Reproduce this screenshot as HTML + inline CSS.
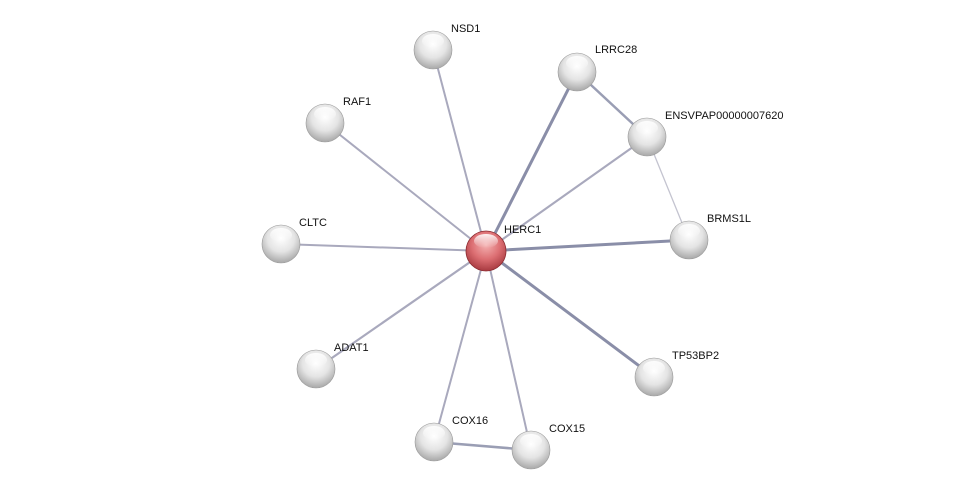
<!DOCTYPE html>
<html><head><meta charset="utf-8"><style>
html,body{margin:0;padding:0;background:#fff;}
svg text{font-family:"Liberation Sans",sans-serif;font-size:11px;fill:#111;}
</style></head><body>
<svg width="976" height="495" viewBox="0 0 976 495" xmlns="http://www.w3.org/2000/svg">
<defs>
<radialGradient id="g" cx="50%" cy="35%" r="65%">
<stop offset="0" stop-color="#ffffff"/><stop offset="0.55" stop-color="#e4e4e4"/><stop offset="1" stop-color="#a8a8a8"/>
</radialGradient>
<radialGradient id="r" cx="50%" cy="35%" r="65%">
<stop offset="0" stop-color="#f4b0b0"/><stop offset="0.55" stop-color="#dc6e72"/><stop offset="1" stop-color="#a83a40"/>
</radialGradient>
<linearGradient id="hl" x1="0" y1="0" x2="0" y2="1">
<stop offset="0" stop-color="#fff" stop-opacity="0.9"/><stop offset="1" stop-color="#fff" stop-opacity="0"/>
</linearGradient>
</defs>
<g stroke-linecap="round">
<line x1="486" y1="251" x2="433" y2="50" stroke="#a9a9bd" stroke-width="2"/>
<line x1="486" y1="251" x2="577" y2="72" stroke="#8a8ea8" stroke-width="3"/>
<line x1="486" y1="251" x2="647" y2="137" stroke="#a9a9bd" stroke-width="2.2"/>
<line x1="486" y1="251" x2="325" y2="123" stroke="#a9a9bd" stroke-width="2"/>
<line x1="486" y1="251" x2="281" y2="244" stroke="#a9a9bd" stroke-width="2"/>
<line x1="486" y1="251" x2="689" y2="240" stroke="#8a8ea8" stroke-width="3"/>
<line x1="486" y1="251" x2="316" y2="369" stroke="#a9a9bd" stroke-width="2.2"/>
<line x1="486" y1="251" x2="654" y2="377" stroke="#8a8ea8" stroke-width="3"/>
<line x1="486" y1="251" x2="434" y2="442" stroke="#a9a9bd" stroke-width="2"/>
<line x1="486" y1="251" x2="531" y2="450" stroke="#a9a9bd" stroke-width="2"/>
<line x1="577" y1="72" x2="647" y2="137" stroke="#9a9eb4" stroke-width="2.5"/>
<line x1="647" y1="137" x2="689" y2="240" stroke="#c4c4d0" stroke-width="1.3"/>
<line x1="434" y1="442" x2="531" y2="450" stroke="#9a9eb4" stroke-width="2.5"/>
</g>
<g>
<g transform="translate(433,50)"><circle r="19" fill="url(#g)" stroke="#999" stroke-width="0.6"/><ellipse cy="-9" rx="11" ry="7" fill="url(#hl)"/></g>
<g transform="translate(577,72)"><circle r="19" fill="url(#g)" stroke="#999" stroke-width="0.6"/><ellipse cy="-9" rx="11" ry="7" fill="url(#hl)"/></g>
<g transform="translate(647,137)"><circle r="19" fill="url(#g)" stroke="#999" stroke-width="0.6"/><ellipse cy="-9" rx="11" ry="7" fill="url(#hl)"/></g>
<g transform="translate(325,123)"><circle r="19" fill="url(#g)" stroke="#999" stroke-width="0.6"/><ellipse cy="-9" rx="11" ry="7" fill="url(#hl)"/></g>
<g transform="translate(281,244)"><circle r="19" fill="url(#g)" stroke="#999" stroke-width="0.6"/><ellipse cy="-9" rx="11" ry="7" fill="url(#hl)"/></g>
<g transform="translate(689,240)"><circle r="19" fill="url(#g)" stroke="#999" stroke-width="0.6"/><ellipse cy="-9" rx="11" ry="7" fill="url(#hl)"/></g>
<g transform="translate(316,369)"><circle r="19" fill="url(#g)" stroke="#999" stroke-width="0.6"/><ellipse cy="-9" rx="11" ry="7" fill="url(#hl)"/></g>
<g transform="translate(654,377)"><circle r="19" fill="url(#g)" stroke="#999" stroke-width="0.6"/><ellipse cy="-9" rx="11" ry="7" fill="url(#hl)"/></g>
<g transform="translate(434,442)"><circle r="19" fill="url(#g)" stroke="#999" stroke-width="0.6"/><ellipse cy="-9" rx="11" ry="7" fill="url(#hl)"/></g>
<g transform="translate(531,450)"><circle r="19" fill="url(#g)" stroke="#999" stroke-width="0.6"/><ellipse cy="-9" rx="11" ry="7" fill="url(#hl)"/></g>
<g transform="translate(486,251)"><circle r="20" fill="url(#r)" stroke="#8a2a30" stroke-width="0.8"/><ellipse cy="-10" rx="12" ry="7" fill="url(#hl)"/></g>
</g>
<text x="451" y="32">NSD1</text>
<text x="595" y="53">LRRC28</text>
<text x="665" y="119">ENSVPAP00000007620</text>
<text x="343" y="105">RAF1</text>
<text x="299" y="226">CLTC</text>
<text x="707" y="222">BRMS1L</text>
<text x="504" y="233">HERC1</text>
<text x="334" y="351">ADAT1</text>
<text x="672" y="359">TP53BP2</text>
<text x="452" y="424">COX16</text>
<text x="549" y="432">COX15</text>
</svg>
</body></html>
